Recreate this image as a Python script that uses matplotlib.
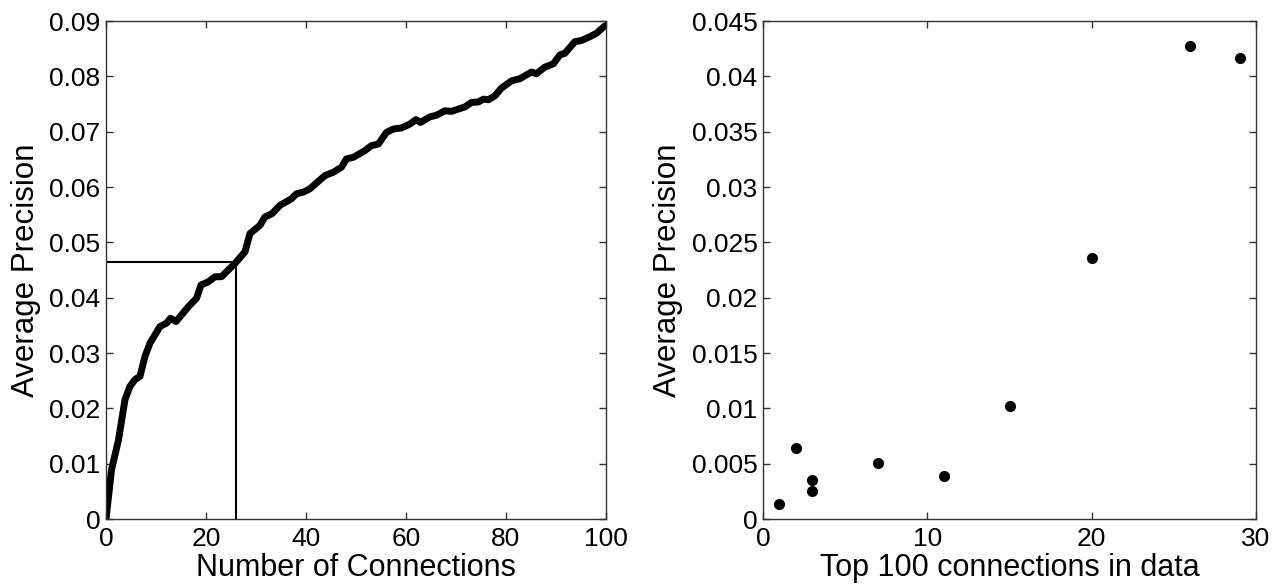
import matplotlib.pyplot as plt
import numpy as np

plt.rcParams['font.family'] = ['Liberation Sans', 'DejaVu Sans']

# left panel: average precision vs number of connections
n_conn = [0, 1.1, 2.5, 3.8, 4.8, 5.8, 6.8, 7.8, 8.8, 10.8, 12.1, 12.9, 14, 16.5, 18.1,
          19, 20.5, 21.8, 23.1, 25.8, 27.8, 28.8, 30.8, 31.8, 33.2, 34.8, 37.1, 38.1,
          39.5, 40.8, 43.8, 45.5, 47.1, 48.1, 49.5, 51.8, 53.1, 54.5, 56.1, 57.5, 59.1,
          60.8, 62, 62.9, 64.8, 66.1, 67.8, 69.1, 71.8, 73.1, 74.5, 75.5, 76.5, 77.8,
          79.1, 81.1, 82.8, 85.1, 86.1, 87.8, 89.5, 90.8, 91.8, 93.8, 95.1, 96.8, 98.1,
          99.6, 100]
avg_prec = [0.0, 0.0089, 0.0143, 0.0216, 0.024, 0.0252, 0.0258, 0.0294, 0.0318, 0.0348,
            0.0354, 0.0363, 0.0357, 0.0384, 0.0399, 0.0423, 0.0429, 0.0438, 0.0438,
            0.0462, 0.0483, 0.0516, 0.0531, 0.0546, 0.0552, 0.0567, 0.0579, 0.0588,
            0.0591, 0.0597, 0.0621, 0.0627, 0.0636, 0.0651, 0.0654, 0.0666, 0.0675,
            0.0678, 0.0699, 0.0705, 0.0707, 0.0714, 0.0722, 0.0717, 0.0727, 0.073,
            0.0738, 0.0737, 0.0745, 0.0753, 0.0754, 0.0759, 0.0758, 0.0765, 0.0779,
            0.0792, 0.0796, 0.0808, 0.0805, 0.0817, 0.0823, 0.0839, 0.0842, 0.0863,
            0.0865, 0.0872, 0.0878, 0.089, 0.0892]
mark_x = 26
mark_y = 0.0465

# right panel: top-100 connections found in data
top_conn = [1, 2, 3, 3, 7, 11, 15, 20, 26, 29]
top_prec = [0.0014, 0.0064, 0.0035, 0.0025, 0.0051, 0.0039, 0.0102, 0.0236, 0.0428, 0.0417]

fig = plt.figure(figsize=(12.85, 5.85), dpi=100)
ax1 = fig.add_axes([0.0825, 0.1128, 0.389, 0.851])
ax2 = fig.add_axes([0.5938, 0.1128, 0.3837, 0.851])

ax1.plot(n_conn, avg_prec, color='k', lw=5, solid_joinstyle='round')
ax1.plot([0, mark_x], [mark_y, mark_y], color='k', lw=1.5)
ax1.plot([mark_x, mark_x], [0, mark_y], color='k', lw=1.5)
ax1.set_xlim(0, 100)
ax1.set_ylim(0, 0.09)
ax1.set_xticks(np.arange(0, 101, 20))
ax1.set_yticks(np.arange(0, 0.091, 0.01))
ax1.set_yticklabels(['0', '0.01', '0.02', '0.03', '0.04', '0.05', '0.06', '0.07', '0.08', '0.09'])
ax1.set_xlabel('Number of Connections', fontsize=22, labelpad=1)
ax1.set_ylabel('Average Precision', fontsize=22.5, labelpad=6)

ax2.plot(top_conn, top_prec, 'o', color='k', markersize=7)
ax2.set_xlim(0, 30)
ax2.set_ylim(0, 0.045)
ax2.set_xticks([0, 10, 20, 30])
ax2.set_yticks(np.arange(0, 0.0451, 0.005))
ax2.set_yticklabels(['0', '0.005', '0.01', '0.015', '0.02', '0.025', '0.03', '0.035', '0.04', '0.045'])
ax2.set_xlabel('Top 100 connections in data', fontsize=22, labelpad=1)
ax2.set_ylabel('Average Precision', fontsize=22.5, labelpad=6)

for ax in (ax1, ax2):
    ax.tick_params(direction='in', top=True, right=True, length=5, width=1,
                   labelsize=19, color='#333333')
    ax.tick_params(axis='x', pad=6)
    ax.tick_params(axis='y', pad=4)
    for s in ax.spines.values():
        s.set_color('#333333')
        s.set_linewidth(1)

fig.savefig('out.png', dpi=100)
